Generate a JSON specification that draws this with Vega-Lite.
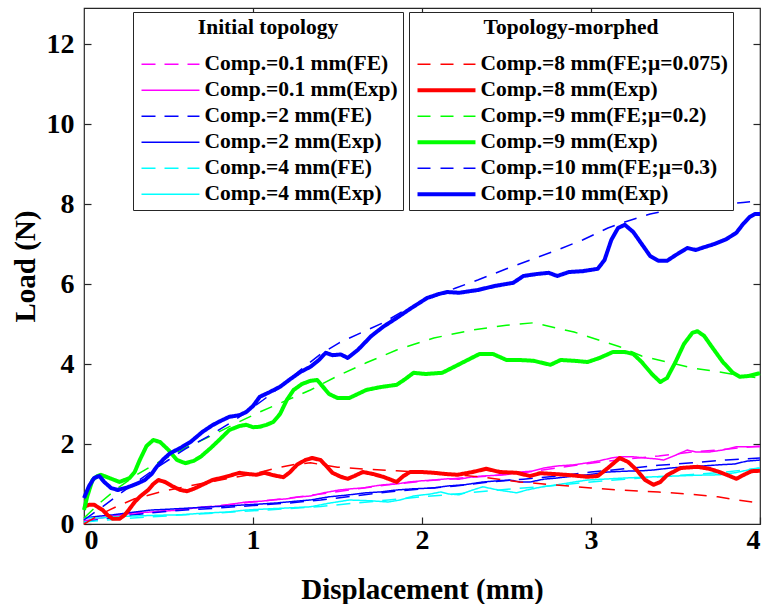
{
  "$schema": "https://vega.github.io/schema/vega-lite/v6.json",
  "width": 676,
  "height": 516,
  "autosize": {"type": "none"},
  "padding": {"left": 84, "top": 8, "right": 5, "bottom": 80},
  "background": "white",
  "config": {
    "view": {"stroke": "#262626", "strokeWidth": 1.2},
    "font": "Liberation Serif",
    "axis": {
      "grid": false,
      "domain": false,
      "tickColor": "#262626",
      "tickSize": -7,
      "tickWidth": 1.2,
      "labelFont": "Liberation Serif",
      "labelFontSize": 28,
      "labelFontWeight": "bold",
      "labelColor": "black",
      "titleFont": "Liberation Serif",
      "titleFontSize": 29,
      "titleFontWeight": "bold",
      "titleColor": "black"
    },
    "legend": {
      "orient": "none",
      "symbolType": "M-1,0H7",
      "symbolSize": 210,
      "symbolFillColor": "transparent",
      "labelFont": "Liberation Serif",
      "labelFontSize": 21.5,
      "labelFontWeight": "bold",
      "labelColor": "black",
      "labelLimit": 400,
      "labelOffset": 45,
      "titleFont": "Liberation Serif",
      "titleFontSize": 21.5,
      "titleFontWeight": "bold",
      "titleColor": "black",
      "titleAnchor": "middle",
      "titlePadding": 15,
      "strokeColor": "#262626",
      "fillColor": "white",
      "padding": 5,
      "rowPadding": 3
    }
  },
  "datasets": {
    "initial": [
      {"s":"Comp.=0.1 mm(FE)","x":0,"y":0.05},{"s":"Comp.=0.1 mm(FE)","x":0.2,"y":0.2},{"s":"Comp.=0.1 mm(FE)","x":0.4,"y":0.3},{"s":"Comp.=0.1 mm(FE)","x":0.6,"y":0.38},{"s":"Comp.=0.1 mm(FE)","x":0.8,"y":0.46},{"s":"Comp.=0.1 mm(FE)","x":1.0,"y":0.55},{"s":"Comp.=0.1 mm(FE)","x":1.2,"y":0.64},{"s":"Comp.=0.1 mm(FE)","x":1.4,"y":0.75},{"s":"Comp.=0.1 mm(FE)","x":1.6,"y":0.87},{"s":"Comp.=0.1 mm(FE)","x":1.8,"y":0.98},{"s":"Comp.=0.1 mm(FE)","x":2.0,"y":1.07},{"s":"Comp.=0.1 mm(FE)","x":2.2,"y":1.14},{"s":"Comp.=0.1 mm(FE)","x":2.4,"y":1.2},{"s":"Comp.=0.1 mm(FE)","x":2.6,"y":1.28},{"s":"Comp.=0.1 mm(FE)","x":2.8,"y":1.4},{"s":"Comp.=0.1 mm(FE)","x":3.0,"y":1.52},{"s":"Comp.=0.1 mm(FE)","x":3.2,"y":1.62},{"s":"Comp.=0.1 mm(FE)","x":3.4,"y":1.7},{"s":"Comp.=0.1 mm(FE)","x":3.6,"y":1.8},{"s":"Comp.=0.1 mm(FE)","x":3.8,"y":1.87},{"s":"Comp.=0.1 mm(FE)","x":4.0,"y":1.95},

      {"s":"Comp.=0.1 mm(Exp)","x":0,"y":0.08},{"s":"Comp.=0.1 mm(Exp)","x":0.1,"y":0.15},{"s":"Comp.=0.1 mm(Exp)","x":0.2,"y":0.22},{"s":"Comp.=0.1 mm(Exp)","x":0.3,"y":0.28},{"s":"Comp.=0.1 mm(Exp)","x":0.4,"y":0.3},{"s":"Comp.=0.1 mm(Exp)","x":0.5,"y":0.33},{"s":"Comp.=0.1 mm(Exp)","x":0.57,"y":0.35},{"s":"Comp.=0.1 mm(Exp)","x":0.65,"y":0.4},{"s":"Comp.=0.1 mm(Exp)","x":0.72,"y":0.42},{"s":"Comp.=0.1 mm(Exp)","x":0.8,"y":0.45},{"s":"Comp.=0.1 mm(Exp)","x":0.88,"y":0.5},{"s":"Comp.=0.1 mm(Exp)","x":0.96,"y":0.55},{"s":"Comp.=0.1 mm(Exp)","x":1.05,"y":0.57},{"s":"Comp.=0.1 mm(Exp)","x":1.12,"y":0.6},{"s":"Comp.=0.1 mm(Exp)","x":1.2,"y":0.63},{"s":"Comp.=0.1 mm(Exp)","x":1.28,"y":0.68},{"s":"Comp.=0.1 mm(Exp)","x":1.34,"y":0.7},{"s":"Comp.=0.1 mm(Exp)","x":1.42,"y":0.78},{"s":"Comp.=0.1 mm(Exp)","x":1.51,"y":0.85},{"s":"Comp.=0.1 mm(Exp)","x":1.58,"y":0.88},{"s":"Comp.=0.1 mm(Exp)","x":1.65,"y":0.9},{"s":"Comp.=0.1 mm(Exp)","x":1.72,"y":0.95},{"s":"Comp.=0.1 mm(Exp)","x":1.77,"y":0.98},{"s":"Comp.=0.1 mm(Exp)","x":1.85,"y":1.0},{"s":"Comp.=0.1 mm(Exp)","x":1.92,"y":1.05},{"s":"Comp.=0.1 mm(Exp)","x":2.0,"y":1.08},{"s":"Comp.=0.1 mm(Exp)","x":2.07,"y":1.1},{"s":"Comp.=0.1 mm(Exp)","x":2.15,"y":1.13},{"s":"Comp.=0.1 mm(Exp)","x":2.22,"y":1.12},{"s":"Comp.=0.1 mm(Exp)","x":2.3,"y":1.18},{"s":"Comp.=0.1 mm(Exp)","x":2.36,"y":1.2},{"s":"Comp.=0.1 mm(Exp)","x":2.45,"y":1.22},{"s":"Comp.=0.1 mm(Exp)","x":2.52,"y":1.25},{"s":"Comp.=0.1 mm(Exp)","x":2.58,"y":1.3},{"s":"Comp.=0.1 mm(Exp)","x":2.65,"y":1.32},{"s":"Comp.=0.1 mm(Exp)","x":2.72,"y":1.4},{"s":"Comp.=0.1 mm(Exp)","x":2.8,"y":1.45},{"s":"Comp.=0.1 mm(Exp)","x":2.9,"y":1.48},{"s":"Comp.=0.1 mm(Exp)","x":2.98,"y":1.53},{"s":"Comp.=0.1 mm(Exp)","x":3.05,"y":1.58},{"s":"Comp.=0.1 mm(Exp)","x":3.12,"y":1.65},{"s":"Comp.=0.1 mm(Exp)","x":3.17,"y":1.68},{"s":"Comp.=0.1 mm(Exp)","x":3.25,"y":1.68},{"s":"Comp.=0.1 mm(Exp)","x":3.32,"y":1.65},{"s":"Comp.=0.1 mm(Exp)","x":3.38,"y":1.63},{"s":"Comp.=0.1 mm(Exp)","x":3.43,"y":1.6},{"s":"Comp.=0.1 mm(Exp)","x":3.5,"y":1.72},{"s":"Comp.=0.1 mm(Exp)","x":3.57,"y":1.85},{"s":"Comp.=0.1 mm(Exp)","x":3.62,"y":1.8},{"s":"Comp.=0.1 mm(Exp)","x":3.7,"y":1.8},{"s":"Comp.=0.1 mm(Exp)","x":3.78,"y":1.85},{"s":"Comp.=0.1 mm(Exp)","x":3.86,"y":1.93},{"s":"Comp.=0.1 mm(Exp)","x":3.93,"y":1.93},{"s":"Comp.=0.1 mm(Exp)","x":4.0,"y":1.93},

      {"s":"Comp.=2 mm(FE)","x":0,"y":0.05},{"s":"Comp.=2 mm(FE)","x":0.2,"y":0.18},{"s":"Comp.=2 mm(FE)","x":0.4,"y":0.28},{"s":"Comp.=2 mm(FE)","x":0.6,"y":0.35},{"s":"Comp.=2 mm(FE)","x":0.8,"y":0.4},{"s":"Comp.=2 mm(FE)","x":1.0,"y":0.46},{"s":"Comp.=2 mm(FE)","x":1.2,"y":0.52},{"s":"Comp.=2 mm(FE)","x":1.4,"y":0.6},{"s":"Comp.=2 mm(FE)","x":1.6,"y":0.7},{"s":"Comp.=2 mm(FE)","x":1.8,"y":0.8},{"s":"Comp.=2 mm(FE)","x":2.0,"y":0.88},{"s":"Comp.=2 mm(FE)","x":2.2,"y":0.95},{"s":"Comp.=2 mm(FE)","x":2.4,"y":1.05},{"s":"Comp.=2 mm(FE)","x":2.6,"y":1.12},{"s":"Comp.=2 mm(FE)","x":2.8,"y":1.2},{"s":"Comp.=2 mm(FE)","x":3.0,"y":1.3},{"s":"Comp.=2 mm(FE)","x":3.2,"y":1.38},{"s":"Comp.=2 mm(FE)","x":3.4,"y":1.47},{"s":"Comp.=2 mm(FE)","x":3.6,"y":1.53},{"s":"Comp.=2 mm(FE)","x":3.8,"y":1.6},{"s":"Comp.=2 mm(FE)","x":4.0,"y":1.65},

      {"s":"Comp.=2 mm(Exp)","x":0,"y":0.15},{"s":"Comp.=2 mm(Exp)","x":0.1,"y":0.2},{"s":"Comp.=2 mm(Exp)","x":0.17,"y":0.23},{"s":"Comp.=2 mm(Exp)","x":0.3,"y":0.3},{"s":"Comp.=2 mm(Exp)","x":0.4,"y":0.35},{"s":"Comp.=2 mm(Exp)","x":0.5,"y":0.37},{"s":"Comp.=2 mm(Exp)","x":0.63,"y":0.4},{"s":"Comp.=2 mm(Exp)","x":0.75,"y":0.43},{"s":"Comp.=2 mm(Exp)","x":0.85,"y":0.45},{"s":"Comp.=2 mm(Exp)","x":0.96,"y":0.48},{"s":"Comp.=2 mm(Exp)","x":1.05,"y":0.5},{"s":"Comp.=2 mm(Exp)","x":1.15,"y":0.53},{"s":"Comp.=2 mm(Exp)","x":1.28,"y":0.58},{"s":"Comp.=2 mm(Exp)","x":1.34,"y":0.6},{"s":"Comp.=2 mm(Exp)","x":1.45,"y":0.68},{"s":"Comp.=2 mm(Exp)","x":1.55,"y":0.72},{"s":"Comp.=2 mm(Exp)","x":1.67,"y":0.78},{"s":"Comp.=2 mm(Exp)","x":1.75,"y":0.8},{"s":"Comp.=2 mm(Exp)","x":1.85,"y":0.85},{"s":"Comp.=2 mm(Exp)","x":1.95,"y":0.88},{"s":"Comp.=2 mm(Exp)","x":2.07,"y":0.9},{"s":"Comp.=2 mm(Exp)","x":2.15,"y":0.95},{"s":"Comp.=2 mm(Exp)","x":2.25,"y":0.98},{"s":"Comp.=2 mm(Exp)","x":2.36,"y":1.05},{"s":"Comp.=2 mm(Exp)","x":2.45,"y":1.08},{"s":"Comp.=2 mm(Exp)","x":2.52,"y":1.1},{"s":"Comp.=2 mm(Exp)","x":2.58,"y":1.05},{"s":"Comp.=2 mm(Exp)","x":2.64,"y":1.05},{"s":"Comp.=2 mm(Exp)","x":2.72,"y":1.12},{"s":"Comp.=2 mm(Exp)","x":2.8,"y":1.15},{"s":"Comp.=2 mm(Exp)","x":2.9,"y":1.2},{"s":"Comp.=2 mm(Exp)","x":2.98,"y":1.23},{"s":"Comp.=2 mm(Exp)","x":3.1,"y":1.3},{"s":"Comp.=2 mm(Exp)","x":3.2,"y":1.32},{"s":"Comp.=2 mm(Exp)","x":3.3,"y":1.33},{"s":"Comp.=2 mm(Exp)","x":3.37,"y":1.35},{"s":"Comp.=2 mm(Exp)","x":3.47,"y":1.4},{"s":"Comp.=2 mm(Exp)","x":3.57,"y":1.43},{"s":"Comp.=2 mm(Exp)","x":3.66,"y":1.45},{"s":"Comp.=2 mm(Exp)","x":3.76,"y":1.48},{"s":"Comp.=2 mm(Exp)","x":3.85,"y":1.5},{"s":"Comp.=2 mm(Exp)","x":3.92,"y":1.57},{"s":"Comp.=2 mm(Exp)","x":4.0,"y":1.6},

      {"s":"Comp.=4 mm(FE)","x":0,"y":0.05},{"s":"Comp.=4 mm(FE)","x":0.2,"y":0.12},{"s":"Comp.=4 mm(FE)","x":0.4,"y":0.18},{"s":"Comp.=4 mm(FE)","x":0.6,"y":0.23},{"s":"Comp.=4 mm(FE)","x":0.8,"y":0.28},{"s":"Comp.=4 mm(FE)","x":1.0,"y":0.33},{"s":"Comp.=4 mm(FE)","x":1.2,"y":0.38},{"s":"Comp.=4 mm(FE)","x":1.4,"y":0.44},{"s":"Comp.=4 mm(FE)","x":1.6,"y":0.52},{"s":"Comp.=4 mm(FE)","x":1.8,"y":0.6},{"s":"Comp.=4 mm(FE)","x":2.0,"y":0.68},{"s":"Comp.=4 mm(FE)","x":2.2,"y":0.75},{"s":"Comp.=4 mm(FE)","x":2.4,"y":0.83},{"s":"Comp.=4 mm(FE)","x":2.6,"y":0.9},{"s":"Comp.=4 mm(FE)","x":2.8,"y":0.97},{"s":"Comp.=4 mm(FE)","x":3.0,"y":1.05},{"s":"Comp.=4 mm(FE)","x":3.2,"y":1.12},{"s":"Comp.=4 mm(FE)","x":3.4,"y":1.18},{"s":"Comp.=4 mm(FE)","x":3.6,"y":1.24},{"s":"Comp.=4 mm(FE)","x":3.8,"y":1.3},{"s":"Comp.=4 mm(FE)","x":4.0,"y":1.4},

      {"s":"Comp.=4 mm(Exp)","x":0,"y":0.15},{"s":"Comp.=4 mm(Exp)","x":0.1,"y":0.15},{"s":"Comp.=4 mm(Exp)","x":0.17,"y":0.18},{"s":"Comp.=4 mm(Exp)","x":0.3,"y":0.2},{"s":"Comp.=4 mm(Exp)","x":0.45,"y":0.22},{"s":"Comp.=4 mm(Exp)","x":0.57,"y":0.23},{"s":"Comp.=4 mm(Exp)","x":0.7,"y":0.27},{"s":"Comp.=4 mm(Exp)","x":0.85,"y":0.3},{"s":"Comp.=4 mm(Exp)","x":0.96,"y":0.35},{"s":"Comp.=4 mm(Exp)","x":1.1,"y":0.38},{"s":"Comp.=4 mm(Exp)","x":1.2,"y":0.4},{"s":"Comp.=4 mm(Exp)","x":1.34,"y":0.43},{"s":"Comp.=4 mm(Exp)","x":1.45,"y":0.52},{"s":"Comp.=4 mm(Exp)","x":1.57,"y":0.6},{"s":"Comp.=4 mm(Exp)","x":1.7,"y":0.58},{"s":"Comp.=4 mm(Exp)","x":1.8,"y":0.55},{"s":"Comp.=4 mm(Exp)","x":1.87,"y":0.6},{"s":"Comp.=4 mm(Exp)","x":1.95,"y":0.7},{"s":"Comp.=4 mm(Exp)","x":2.05,"y":0.75},{"s":"Comp.=4 mm(Exp)","x":2.11,"y":0.8},{"s":"Comp.=4 mm(Exp)","x":2.16,"y":0.75},{"s":"Comp.=4 mm(Exp)","x":2.22,"y":0.73},{"s":"Comp.=4 mm(Exp)","x":2.3,"y":0.85},{"s":"Comp.=4 mm(Exp)","x":2.36,"y":0.93},{"s":"Comp.=4 mm(Exp)","x":2.45,"y":0.85},{"s":"Comp.=4 mm(Exp)","x":2.56,"y":0.78},{"s":"Comp.=4 mm(Exp)","x":2.62,"y":0.85},{"s":"Comp.=4 mm(Exp)","x":2.7,"y":0.92},{"s":"Comp.=4 mm(Exp)","x":2.8,"y":0.98},{"s":"Comp.=4 mm(Exp)","x":2.9,"y":1.05},{"s":"Comp.=4 mm(Exp)","x":2.98,"y":1.1},{"s":"Comp.=4 mm(Exp)","x":3.07,"y":1.12},{"s":"Comp.=4 mm(Exp)","x":3.2,"y":1.15},{"s":"Comp.=4 mm(Exp)","x":3.37,"y":1.18},{"s":"Comp.=4 mm(Exp)","x":3.5,"y":1.2},{"s":"Comp.=4 mm(Exp)","x":3.63,"y":1.22},{"s":"Comp.=4 mm(Exp)","x":3.76,"y":1.23},{"s":"Comp.=4 mm(Exp)","x":3.85,"y":1.28},{"s":"Comp.=4 mm(Exp)","x":3.93,"y":1.35},{"s":"Comp.=4 mm(Exp)","x":4.0,"y":1.4}
    ],
    "morphed": [
      {"s":"Comp.=8 mm(FE;μ=0.075)","x":0,"y":0.0},{"s":"Comp.=8 mm(FE;μ=0.075)","x":0.1,"y":0.25},{"s":"Comp.=8 mm(FE;μ=0.075)","x":0.2,"y":0.45},{"s":"Comp.=8 mm(FE;μ=0.075)","x":0.3,"y":0.63},{"s":"Comp.=8 mm(FE;μ=0.075)","x":0.47,"y":0.82},{"s":"Comp.=8 mm(FE;μ=0.075)","x":0.6,"y":0.93},{"s":"Comp.=8 mm(FE;μ=0.075)","x":0.73,"y":1.04},{"s":"Comp.=8 mm(FE;μ=0.075)","x":0.87,"y":1.15},{"s":"Comp.=8 mm(FE;μ=0.075)","x":1.0,"y":1.25},{"s":"Comp.=8 mm(FE;μ=0.075)","x":1.14,"y":1.4},{"s":"Comp.=8 mm(FE;μ=0.075)","x":1.25,"y":1.49},{"s":"Comp.=8 mm(FE;μ=0.075)","x":1.34,"y":1.53},{"s":"Comp.=8 mm(FE;μ=0.075)","x":1.5,"y":1.42},{"s":"Comp.=8 mm(FE;μ=0.075)","x":1.67,"y":1.37},{"s":"Comp.=8 mm(FE;μ=0.075)","x":1.85,"y":1.33},{"s":"Comp.=8 mm(FE;μ=0.075)","x":2.1,"y":1.27},{"s":"Comp.=8 mm(FE;μ=0.075)","x":2.34,"y":1.18},{"s":"Comp.=8 mm(FE;μ=0.075)","x":2.58,"y":1.05},{"s":"Comp.=8 mm(FE;μ=0.075)","x":2.78,"y":0.98},{"s":"Comp.=8 mm(FE;μ=0.075)","x":3.0,"y":0.9},{"s":"Comp.=8 mm(FE;μ=0.075)","x":3.17,"y":0.85},{"s":"Comp.=8 mm(FE;μ=0.075)","x":3.4,"y":0.8},{"s":"Comp.=8 mm(FE;μ=0.075)","x":3.57,"y":0.75},{"s":"Comp.=8 mm(FE;μ=0.075)","x":3.75,"y":0.68},{"s":"Comp.=8 mm(FE;μ=0.075)","x":3.9,"y":0.58},{"s":"Comp.=8 mm(FE;μ=0.075)","x":4.0,"y":0.52},

      {"s":"Comp.=8 mm(Exp)","x":0,"y":0.43},{"s":"Comp.=8 mm(Exp)","x":0.03,"y":0.48},{"s":"Comp.=8 mm(Exp)","x":0.06,"y":0.48},{"s":"Comp.=8 mm(Exp)","x":0.11,"y":0.35},{"s":"Comp.=8 mm(Exp)","x":0.14,"y":0.22},{"s":"Comp.=8 mm(Exp)","x":0.17,"y":0.13},{"s":"Comp.=8 mm(Exp)","x":0.21,"y":0.13},{"s":"Comp.=8 mm(Exp)","x":0.24,"y":0.22},{"s":"Comp.=8 mm(Exp)","x":0.27,"y":0.38},{"s":"Comp.=8 mm(Exp)","x":0.3,"y":0.55},{"s":"Comp.=8 mm(Exp)","x":0.33,"y":0.68},{"s":"Comp.=8 mm(Exp)","x":0.38,"y":0.85},{"s":"Comp.=8 mm(Exp)","x":0.41,"y":1.0},{"s":"Comp.=8 mm(Exp)","x":0.44,"y":1.1},{"s":"Comp.=8 mm(Exp)","x":0.48,"y":1.05},{"s":"Comp.=8 mm(Exp)","x":0.52,"y":0.95},{"s":"Comp.=8 mm(Exp)","x":0.57,"y":0.85},{"s":"Comp.=8 mm(Exp)","x":0.61,"y":0.82},{"s":"Comp.=8 mm(Exp)","x":0.65,"y":0.88},{"s":"Comp.=8 mm(Exp)","x":0.7,"y":0.98},{"s":"Comp.=8 mm(Exp)","x":0.76,"y":1.1},{"s":"Comp.=8 mm(Exp)","x":0.84,"y":1.18},{"s":"Comp.=8 mm(Exp)","x":0.92,"y":1.28},{"s":"Comp.=8 mm(Exp)","x":0.97,"y":1.25},{"s":"Comp.=8 mm(Exp)","x":1.02,"y":1.23},{"s":"Comp.=8 mm(Exp)","x":1.07,"y":1.28},{"s":"Comp.=8 mm(Exp)","x":1.12,"y":1.22},{"s":"Comp.=8 mm(Exp)","x":1.18,"y":1.17},{"s":"Comp.=8 mm(Exp)","x":1.22,"y":1.3},{"s":"Comp.=8 mm(Exp)","x":1.26,"y":1.48},{"s":"Comp.=8 mm(Exp)","x":1.31,"y":1.6},{"s":"Comp.=8 mm(Exp)","x":1.35,"y":1.65},{"s":"Comp.=8 mm(Exp)","x":1.4,"y":1.6},{"s":"Comp.=8 mm(Exp)","x":1.44,"y":1.42},{"s":"Comp.=8 mm(Exp)","x":1.47,"y":1.28},{"s":"Comp.=8 mm(Exp)","x":1.52,"y":1.18},{"s":"Comp.=8 mm(Exp)","x":1.56,"y":1.13},{"s":"Comp.=8 mm(Exp)","x":1.6,"y":1.2},{"s":"Comp.=8 mm(Exp)","x":1.65,"y":1.3},{"s":"Comp.=8 mm(Exp)","x":1.71,"y":1.25},{"s":"Comp.=8 mm(Exp)","x":1.77,"y":1.18},{"s":"Comp.=8 mm(Exp)","x":1.82,"y":1.1},{"s":"Comp.=8 mm(Exp)","x":1.85,"y":1.05},{"s":"Comp.=8 mm(Exp)","x":1.89,"y":1.2},{"s":"Comp.=8 mm(Exp)","x":1.93,"y":1.3},{"s":"Comp.=8 mm(Exp)","x":2.0,"y":1.3},{"s":"Comp.=8 mm(Exp)","x":2.07,"y":1.28},{"s":"Comp.=8 mm(Exp)","x":2.14,"y":1.25},{"s":"Comp.=8 mm(Exp)","x":2.21,"y":1.23},{"s":"Comp.=8 mm(Exp)","x":2.3,"y":1.3},{"s":"Comp.=8 mm(Exp)","x":2.38,"y":1.38},{"s":"Comp.=8 mm(Exp)","x":2.46,"y":1.3},{"s":"Comp.=8 mm(Exp)","x":2.56,"y":1.28},{"s":"Comp.=8 mm(Exp)","x":2.64,"y":1.2},{"s":"Comp.=8 mm(Exp)","x":2.7,"y":1.27},{"s":"Comp.=8 mm(Exp)","x":2.78,"y":1.25},{"s":"Comp.=8 mm(Exp)","x":2.88,"y":1.22},{"s":"Comp.=8 mm(Exp)","x":2.98,"y":1.18},{"s":"Comp.=8 mm(Exp)","x":3.04,"y":1.2},{"s":"Comp.=8 mm(Exp)","x":3.1,"y":1.4},{"s":"Comp.=8 mm(Exp)","x":3.17,"y":1.65},{"s":"Comp.=8 mm(Exp)","x":3.22,"y":1.55},{"s":"Comp.=8 mm(Exp)","x":3.27,"y":1.35},{"s":"Comp.=8 mm(Exp)","x":3.32,"y":1.1},{"s":"Comp.=8 mm(Exp)","x":3.37,"y":0.98},{"s":"Comp.=8 mm(Exp)","x":3.41,"y":1.05},{"s":"Comp.=8 mm(Exp)","x":3.45,"y":1.22},{"s":"Comp.=8 mm(Exp)","x":3.53,"y":1.4},{"s":"Comp.=8 mm(Exp)","x":3.63,"y":1.43},{"s":"Comp.=8 mm(Exp)","x":3.7,"y":1.38},{"s":"Comp.=8 mm(Exp)","x":3.76,"y":1.3},{"s":"Comp.=8 mm(Exp)","x":3.82,"y":1.2},{"s":"Comp.=8 mm(Exp)","x":3.86,"y":1.13},{"s":"Comp.=8 mm(Exp)","x":3.9,"y":1.22},{"s":"Comp.=8 mm(Exp)","x":3.95,"y":1.32},{"s":"Comp.=8 mm(Exp)","x":4.0,"y":1.33},

      {"s":"Comp.=9 mm(FE;μ=0.2)","x":0,"y":0.15},{"s":"Comp.=9 mm(FE;μ=0.2)","x":0.1,"y":0.55},{"s":"Comp.=9 mm(FE;μ=0.2)","x":0.2,"y":0.9},{"s":"Comp.=9 mm(FE;μ=0.2)","x":0.3,"y":1.2},{"s":"Comp.=9 mm(FE;μ=0.2)","x":0.4,"y":1.45},{"s":"Comp.=9 mm(FE;μ=0.2)","x":0.5,"y":1.68},{"s":"Comp.=9 mm(FE;μ=0.2)","x":0.6,"y":1.9},{"s":"Comp.=9 mm(FE;μ=0.2)","x":0.76,"y":2.22},{"s":"Comp.=9 mm(FE;μ=0.2)","x":0.9,"y":2.52},{"s":"Comp.=9 mm(FE;μ=0.2)","x":1.05,"y":2.82},{"s":"Comp.=9 mm(FE;μ=0.2)","x":1.16,"y":3.02},{"s":"Comp.=9 mm(FE;μ=0.2)","x":1.34,"y":3.35},{"s":"Comp.=9 mm(FE;μ=0.2)","x":1.5,"y":3.7},{"s":"Comp.=9 mm(FE;μ=0.2)","x":1.67,"y":4.03},{"s":"Comp.=9 mm(FE;μ=0.2)","x":1.85,"y":4.35},{"s":"Comp.=9 mm(FE;μ=0.2)","x":2.07,"y":4.65},{"s":"Comp.=9 mm(FE;μ=0.2)","x":2.3,"y":4.85},{"s":"Comp.=9 mm(FE;μ=0.2)","x":2.5,"y":4.97},{"s":"Comp.=9 mm(FE;μ=0.2)","x":2.66,"y":5.03},{"s":"Comp.=9 mm(FE;μ=0.2)","x":2.9,"y":4.8},{"s":"Comp.=9 mm(FE;μ=0.2)","x":3.17,"y":4.43},{"s":"Comp.=9 mm(FE;μ=0.2)","x":3.3,"y":4.2},{"s":"Comp.=9 mm(FE;μ=0.2)","x":3.47,"y":4.03},{"s":"Comp.=9 mm(FE;μ=0.2)","x":3.6,"y":3.9},{"s":"Comp.=9 mm(FE;μ=0.2)","x":3.76,"y":3.8},{"s":"Comp.=9 mm(FE;μ=0.2)","x":3.9,"y":3.7},{"s":"Comp.=9 mm(FE;μ=0.2)","x":4.0,"y":3.65},

      {"s":"Comp.=9 mm(Exp)","x":0,"y":0.35},{"s":"Comp.=9 mm(Exp)","x":0.02,"y":0.7},{"s":"Comp.=9 mm(Exp)","x":0.05,"y":1.1},{"s":"Comp.=9 mm(Exp)","x":0.08,"y":1.2},{"s":"Comp.=9 mm(Exp)","x":0.1,"y":1.23},{"s":"Comp.=9 mm(Exp)","x":0.15,"y":1.15},{"s":"Comp.=9 mm(Exp)","x":0.21,"y":1.05},{"s":"Comp.=9 mm(Exp)","x":0.27,"y":1.15},{"s":"Comp.=9 mm(Exp)","x":0.3,"y":1.3},{"s":"Comp.=9 mm(Exp)","x":0.33,"y":1.6},{"s":"Comp.=9 mm(Exp)","x":0.37,"y":1.95},{"s":"Comp.=9 mm(Exp)","x":0.41,"y":2.1},{"s":"Comp.=9 mm(Exp)","x":0.45,"y":2.05},{"s":"Comp.=9 mm(Exp)","x":0.5,"y":1.85},{"s":"Comp.=9 mm(Exp)","x":0.55,"y":1.6},{"s":"Comp.=9 mm(Exp)","x":0.6,"y":1.52},{"s":"Comp.=9 mm(Exp)","x":0.65,"y":1.58},{"s":"Comp.=9 mm(Exp)","x":0.69,"y":1.68},{"s":"Comp.=9 mm(Exp)","x":0.75,"y":1.9},{"s":"Comp.=9 mm(Exp)","x":0.8,"y":2.1},{"s":"Comp.=9 mm(Exp)","x":0.86,"y":2.35},{"s":"Comp.=9 mm(Exp)","x":0.92,"y":2.45},{"s":"Comp.=9 mm(Exp)","x":0.96,"y":2.48},{"s":"Comp.=9 mm(Exp)","x":1.0,"y":2.42},{"s":"Comp.=9 mm(Exp)","x":1.04,"y":2.43},{"s":"Comp.=9 mm(Exp)","x":1.08,"y":2.48},{"s":"Comp.=9 mm(Exp)","x":1.12,"y":2.55},{"s":"Comp.=9 mm(Exp)","x":1.16,"y":2.75},{"s":"Comp.=9 mm(Exp)","x":1.2,"y":3.1},{"s":"Comp.=9 mm(Exp)","x":1.24,"y":3.35},{"s":"Comp.=9 mm(Exp)","x":1.29,"y":3.5},{"s":"Comp.=9 mm(Exp)","x":1.34,"y":3.58},{"s":"Comp.=9 mm(Exp)","x":1.38,"y":3.6},{"s":"Comp.=9 mm(Exp)","x":1.41,"y":3.45},{"s":"Comp.=9 mm(Exp)","x":1.45,"y":3.25},{"s":"Comp.=9 mm(Exp)","x":1.5,"y":3.15},{"s":"Comp.=9 mm(Exp)","x":1.57,"y":3.15},{"s":"Comp.=9 mm(Exp)","x":1.62,"y":3.25},{"s":"Comp.=9 mm(Exp)","x":1.67,"y":3.35},{"s":"Comp.=9 mm(Exp)","x":1.75,"y":3.42},{"s":"Comp.=9 mm(Exp)","x":1.85,"y":3.48},{"s":"Comp.=9 mm(Exp)","x":1.9,"y":3.62},{"s":"Comp.=9 mm(Exp)","x":1.95,"y":3.78},{"s":"Comp.=9 mm(Exp)","x":2.02,"y":3.75},{"s":"Comp.=9 mm(Exp)","x":2.12,"y":3.78},{"s":"Comp.=9 mm(Exp)","x":2.2,"y":3.95},{"s":"Comp.=9 mm(Exp)","x":2.27,"y":4.1},{"s":"Comp.=9 mm(Exp)","x":2.34,"y":4.25},{"s":"Comp.=9 mm(Exp)","x":2.42,"y":4.25},{"s":"Comp.=9 mm(Exp)","x":2.5,"y":4.1},{"s":"Comp.=9 mm(Exp)","x":2.58,"y":4.1},{"s":"Comp.=9 mm(Exp)","x":2.66,"y":4.08},{"s":"Comp.=9 mm(Exp)","x":2.76,"y":3.98},{"s":"Comp.=9 mm(Exp)","x":2.82,"y":4.1},{"s":"Comp.=9 mm(Exp)","x":2.9,"y":4.08},{"s":"Comp.=9 mm(Exp)","x":2.98,"y":4.05},{"s":"Comp.=9 mm(Exp)","x":3.05,"y":4.15},{"s":"Comp.=9 mm(Exp)","x":3.13,"y":4.3},{"s":"Comp.=9 mm(Exp)","x":3.2,"y":4.3},{"s":"Comp.=9 mm(Exp)","x":3.25,"y":4.25},{"s":"Comp.=9 mm(Exp)","x":3.3,"y":4.05},{"s":"Comp.=9 mm(Exp)","x":3.36,"y":3.75},{"s":"Comp.=9 mm(Exp)","x":3.41,"y":3.55},{"s":"Comp.=9 mm(Exp)","x":3.45,"y":3.65},{"s":"Comp.=9 mm(Exp)","x":3.5,"y":4.05},{"s":"Comp.=9 mm(Exp)","x":3.55,"y":4.5},{"s":"Comp.=9 mm(Exp)","x":3.6,"y":4.78},{"s":"Comp.=9 mm(Exp)","x":3.63,"y":4.82},{"s":"Comp.=9 mm(Exp)","x":3.67,"y":4.7},{"s":"Comp.=9 mm(Exp)","x":3.72,"y":4.4},{"s":"Comp.=9 mm(Exp)","x":3.78,"y":4.05},{"s":"Comp.=9 mm(Exp)","x":3.84,"y":3.78},{"s":"Comp.=9 mm(Exp)","x":3.88,"y":3.68},{"s":"Comp.=9 mm(Exp)","x":3.93,"y":3.7},{"s":"Comp.=9 mm(Exp)","x":4.0,"y":3.77},

      {"s":"Comp.=10 mm(FE;μ=0.3)","x":0,"y":0.1},{"s":"Comp.=10 mm(FE;μ=0.3)","x":0.1,"y":0.4},{"s":"Comp.=10 mm(FE;μ=0.3)","x":0.2,"y":0.72},{"s":"Comp.=10 mm(FE;μ=0.3)","x":0.3,"y":1.02},{"s":"Comp.=10 mm(FE;μ=0.3)","x":0.4,"y":1.32},{"s":"Comp.=10 mm(FE;μ=0.3)","x":0.5,"y":1.6},{"s":"Comp.=10 mm(FE;μ=0.3)","x":0.6,"y":1.88},{"s":"Comp.=10 mm(FE;μ=0.3)","x":0.76,"y":2.25},{"s":"Comp.=10 mm(FE;μ=0.3)","x":0.9,"y":2.62},{"s":"Comp.=10 mm(FE;μ=0.3)","x":1.06,"y":3.1},{"s":"Comp.=10 mm(FE;μ=0.3)","x":1.2,"y":3.55},{"s":"Comp.=10 mm(FE;μ=0.3)","x":1.28,"y":3.85},{"s":"Comp.=10 mm(FE;μ=0.3)","x":1.4,"y":4.25},{"s":"Comp.=10 mm(FE;μ=0.3)","x":1.51,"y":4.53},{"s":"Comp.=10 mm(FE;μ=0.3)","x":1.65,"y":4.8},{"s":"Comp.=10 mm(FE;μ=0.3)","x":1.77,"y":5.03},{"s":"Comp.=10 mm(FE;μ=0.3)","x":1.9,"y":5.35},{"s":"Comp.=10 mm(FE;μ=0.3)","x":2.07,"y":5.68},{"s":"Comp.=10 mm(FE;μ=0.3)","x":2.2,"y":5.9},{"s":"Comp.=10 mm(FE;μ=0.3)","x":2.33,"y":6.1},{"s":"Comp.=10 mm(FE;μ=0.3)","x":2.5,"y":6.38},{"s":"Comp.=10 mm(FE;μ=0.3)","x":2.64,"y":6.6},{"s":"Comp.=10 mm(FE;μ=0.3)","x":2.8,"y":6.85},{"s":"Comp.=10 mm(FE;μ=0.3)","x":2.95,"y":7.1},{"s":"Comp.=10 mm(FE;μ=0.3)","x":3.1,"y":7.4},{"s":"Comp.=10 mm(FE;μ=0.3)","x":3.2,"y":7.55},{"s":"Comp.=10 mm(FE;μ=0.3)","x":3.35,"y":7.75},{"s":"Comp.=10 mm(FE;μ=0.3)","x":3.47,"y":7.85},{"s":"Comp.=10 mm(FE;μ=0.3)","x":3.6,"y":7.9},{"s":"Comp.=10 mm(FE;μ=0.3)","x":3.76,"y":7.98},{"s":"Comp.=10 mm(FE;μ=0.3)","x":3.9,"y":8.04},{"s":"Comp.=10 mm(FE;μ=0.3)","x":4.0,"y":8.08},

      {"s":"Comp.=10 mm(Exp)","x":0,"y":0.65},{"s":"Comp.=10 mm(Exp)","x":0.03,"y":0.95},{"s":"Comp.=10 mm(Exp)","x":0.06,"y":1.15},{"s":"Comp.=10 mm(Exp)","x":0.09,"y":1.2},{"s":"Comp.=10 mm(Exp)","x":0.12,"y":1.05},{"s":"Comp.=10 mm(Exp)","x":0.16,"y":0.9},{"s":"Comp.=10 mm(Exp)","x":0.2,"y":0.85},{"s":"Comp.=10 mm(Exp)","x":0.26,"y":0.92},{"s":"Comp.=10 mm(Exp)","x":0.32,"y":1.02},{"s":"Comp.=10 mm(Exp)","x":0.36,"y":1.1},{"s":"Comp.=10 mm(Exp)","x":0.4,"y":1.25},{"s":"Comp.=10 mm(Exp)","x":0.43,"y":1.43},{"s":"Comp.=10 mm(Exp)","x":0.47,"y":1.62},{"s":"Comp.=10 mm(Exp)","x":0.51,"y":1.77},{"s":"Comp.=10 mm(Exp)","x":0.57,"y":1.9},{"s":"Comp.=10 mm(Exp)","x":0.63,"y":2.05},{"s":"Comp.=10 mm(Exp)","x":0.7,"y":2.3},{"s":"Comp.=10 mm(Exp)","x":0.76,"y":2.47},{"s":"Comp.=10 mm(Exp)","x":0.81,"y":2.58},{"s":"Comp.=10 mm(Exp)","x":0.86,"y":2.68},{"s":"Comp.=10 mm(Exp)","x":0.92,"y":2.72},{"s":"Comp.=10 mm(Exp)","x":0.96,"y":2.8},{"s":"Comp.=10 mm(Exp)","x":1.0,"y":2.95},{"s":"Comp.=10 mm(Exp)","x":1.04,"y":3.18},{"s":"Comp.=10 mm(Exp)","x":1.1,"y":3.3},{"s":"Comp.=10 mm(Exp)","x":1.16,"y":3.43},{"s":"Comp.=10 mm(Exp)","x":1.22,"y":3.62},{"s":"Comp.=10 mm(Exp)","x":1.28,"y":3.8},{"s":"Comp.=10 mm(Exp)","x":1.34,"y":3.93},{"s":"Comp.=10 mm(Exp)","x":1.39,"y":4.1},{"s":"Comp.=10 mm(Exp)","x":1.43,"y":4.28},{"s":"Comp.=10 mm(Exp)","x":1.47,"y":4.22},{"s":"Comp.=10 mm(Exp)","x":1.52,"y":4.24},{"s":"Comp.=10 mm(Exp)","x":1.56,"y":4.15},{"s":"Comp.=10 mm(Exp)","x":1.62,"y":4.35},{"s":"Comp.=10 mm(Exp)","x":1.7,"y":4.7},{"s":"Comp.=10 mm(Exp)","x":1.77,"y":4.93},{"s":"Comp.=10 mm(Exp)","x":1.85,"y":5.15},{"s":"Comp.=10 mm(Exp)","x":1.93,"y":5.38},{"s":"Comp.=10 mm(Exp)","x":2.03,"y":5.65},{"s":"Comp.=10 mm(Exp)","x":2.1,"y":5.75},{"s":"Comp.=10 mm(Exp)","x":2.15,"y":5.8},{"s":"Comp.=10 mm(Exp)","x":2.22,"y":5.78},{"s":"Comp.=10 mm(Exp)","x":2.33,"y":5.85},{"s":"Comp.=10 mm(Exp)","x":2.43,"y":5.95},{"s":"Comp.=10 mm(Exp)","x":2.54,"y":6.03},{"s":"Comp.=10 mm(Exp)","x":2.6,"y":6.2},{"s":"Comp.=10 mm(Exp)","x":2.68,"y":6.25},{"s":"Comp.=10 mm(Exp)","x":2.75,"y":6.28},{"s":"Comp.=10 mm(Exp)","x":2.8,"y":6.2},{"s":"Comp.=10 mm(Exp)","x":2.87,"y":6.3},{"s":"Comp.=10 mm(Exp)","x":2.95,"y":6.32},{"s":"Comp.=10 mm(Exp)","x":3.04,"y":6.38},{"s":"Comp.=10 mm(Exp)","x":3.08,"y":6.6},{"s":"Comp.=10 mm(Exp)","x":3.12,"y":7.1},{"s":"Comp.=10 mm(Exp)","x":3.16,"y":7.4},{"s":"Comp.=10 mm(Exp)","x":3.2,"y":7.48},{"s":"Comp.=10 mm(Exp)","x":3.25,"y":7.3},{"s":"Comp.=10 mm(Exp)","x":3.3,"y":7.0},{"s":"Comp.=10 mm(Exp)","x":3.35,"y":6.7},{"s":"Comp.=10 mm(Exp)","x":3.4,"y":6.58},{"s":"Comp.=10 mm(Exp)","x":3.45,"y":6.58},{"s":"Comp.=10 mm(Exp)","x":3.5,"y":6.72},{"s":"Comp.=10 mm(Exp)","x":3.57,"y":6.9},{"s":"Comp.=10 mm(Exp)","x":3.62,"y":6.85},{"s":"Comp.=10 mm(Exp)","x":3.67,"y":6.92},{"s":"Comp.=10 mm(Exp)","x":3.73,"y":7.0},{"s":"Comp.=10 mm(Exp)","x":3.8,"y":7.12},{"s":"Comp.=10 mm(Exp)","x":3.86,"y":7.28},{"s":"Comp.=10 mm(Exp)","x":3.9,"y":7.5},{"s":"Comp.=10 mm(Exp)","x":3.94,"y":7.68},{"s":"Comp.=10 mm(Exp)","x":3.97,"y":7.75},{"s":"Comp.=10 mm(Exp)","x":4.0,"y":7.75}
    ]
  },
  "layer": [
    {
      "data": {"name": "initial"},
      "mark": {"type": "line", "strokeWidth": 1.5, "strokeJoin": "round"},
      "encoding": {
        "x": {"field": "x", "type": "quantitative", "scale": {"domain": [0, 4], "nice": false},
              "axis": {"orient": "bottom", "values": [0, 1, 2, 3, 4], "format": "d", "title": "Displacement (mm)",
                       "labelFont": "Liberation Serif", "labelFontSize": 28, "labelFontWeight": "bold",
                       "labelPadding": 9, "titlePadding": 21}},
        "y": {"field": "y", "type": "quantitative", "scale": {"domain": [0, 12.9], "nice": false},
              "axis": {"orient": "left", "values": [0, 2, 4, 6, 8, 10, 12], "format": "d", "title": "Load (N)",
                       "labelFont": "Liberation Serif", "labelFontSize": 28, "labelFontWeight": "bold",
                       "labelPadding": 17, "titlePadding": 6}},
        "color": {"field": "s", "type": "nominal",
                  "scale": {"domain": ["Comp.=0.1 mm(FE)", "Comp.=0.1 mm(Exp)", "Comp.=2 mm(FE)", "Comp.=2 mm(Exp)", "Comp.=4 mm(FE)", "Comp.=4 mm(Exp)"],
                            "range": ["#FF00FF", "#FF00FF", "#0000FF", "#0000FF", "#00FFFF", "#00FFFF"]},
                  "legend": {"title": "Initial topology", "legendX": 49, "legendY": 4}},
        "strokeDash": {"field": "s", "type": "nominal",
                       "scale": {"domain": ["Comp.=0.1 mm(FE)", "Comp.=0.1 mm(Exp)", "Comp.=2 mm(FE)", "Comp.=2 mm(Exp)", "Comp.=4 mm(FE)", "Comp.=4 mm(Exp)"],
                                 "range": [[14, 9], [1, 0], [14, 9], [1, 0], [14, 9], [1, 0]]},
                       "legend": {"title": "Initial topology", "legendX": 49, "legendY": 4}}
      }
    },
    {
      "data": {"name": "morphed"},
      "mark": {"type": "line", "strokeJoin": "round"},
      "encoding": {
        "x": {"field": "x", "type": "quantitative",
              "axis": {"orient": "top", "values": [1, 2, 3], "labels": false, "title": null}},
        "y": {"field": "y", "type": "quantitative",
              "axis": {"orient": "right", "values": [2, 4, 6, 8, 10, 12], "labels": false, "title": null}},
        "color": {"field": "s", "type": "nominal",
                  "scale": {"domain": ["Comp.=8 mm(FE;μ=0.075)", "Comp.=8 mm(Exp)", "Comp.=9 mm(FE;μ=0.2)", "Comp.=9 mm(Exp)", "Comp.=10 mm(FE;μ=0.3)", "Comp.=10 mm(Exp)"],
                            "range": ["#FF0000", "#FF0000", "#00FF00", "#00FF00", "#0000FF", "#0000FF"]},
                  "legend": {"title": "Topology-morphed", "legendX": 325, "legendY": 4}},
        "strokeDash": {"field": "s", "type": "nominal",
                       "scale": {"domain": ["Comp.=8 mm(FE;μ=0.075)", "Comp.=8 mm(Exp)", "Comp.=9 mm(FE;μ=0.2)", "Comp.=9 mm(Exp)", "Comp.=10 mm(FE;μ=0.3)", "Comp.=10 mm(Exp)"],
                                 "range": [[13, 10], [1, 0], [13, 10], [1, 0], [13, 10], [1, 0]]},
                       "legend": {"title": "Topology-morphed", "legendX": 325, "legendY": 4}},
        "strokeWidth": {"field": "s", "type": "nominal",
                        "scale": {"type": "ordinal",
                                  "domain": ["Comp.=8 mm(FE;μ=0.075)", "Comp.=8 mm(Exp)", "Comp.=9 mm(FE;μ=0.2)", "Comp.=9 mm(Exp)", "Comp.=10 mm(FE;μ=0.3)", "Comp.=10 mm(Exp)"],
                                  "range": [1.5, 4, 1.5, 4, 1.5, 4]},
                        "legend": {"title": "Topology-morphed", "legendX": 325, "legendY": 4}}
      }
    }
  ],
  "resolve": {
    "scale": {"color": "independent", "strokeDash": "independent", "strokeWidth": "independent"},
    "axis": {"x": "independent", "y": "independent"}
  }
}
